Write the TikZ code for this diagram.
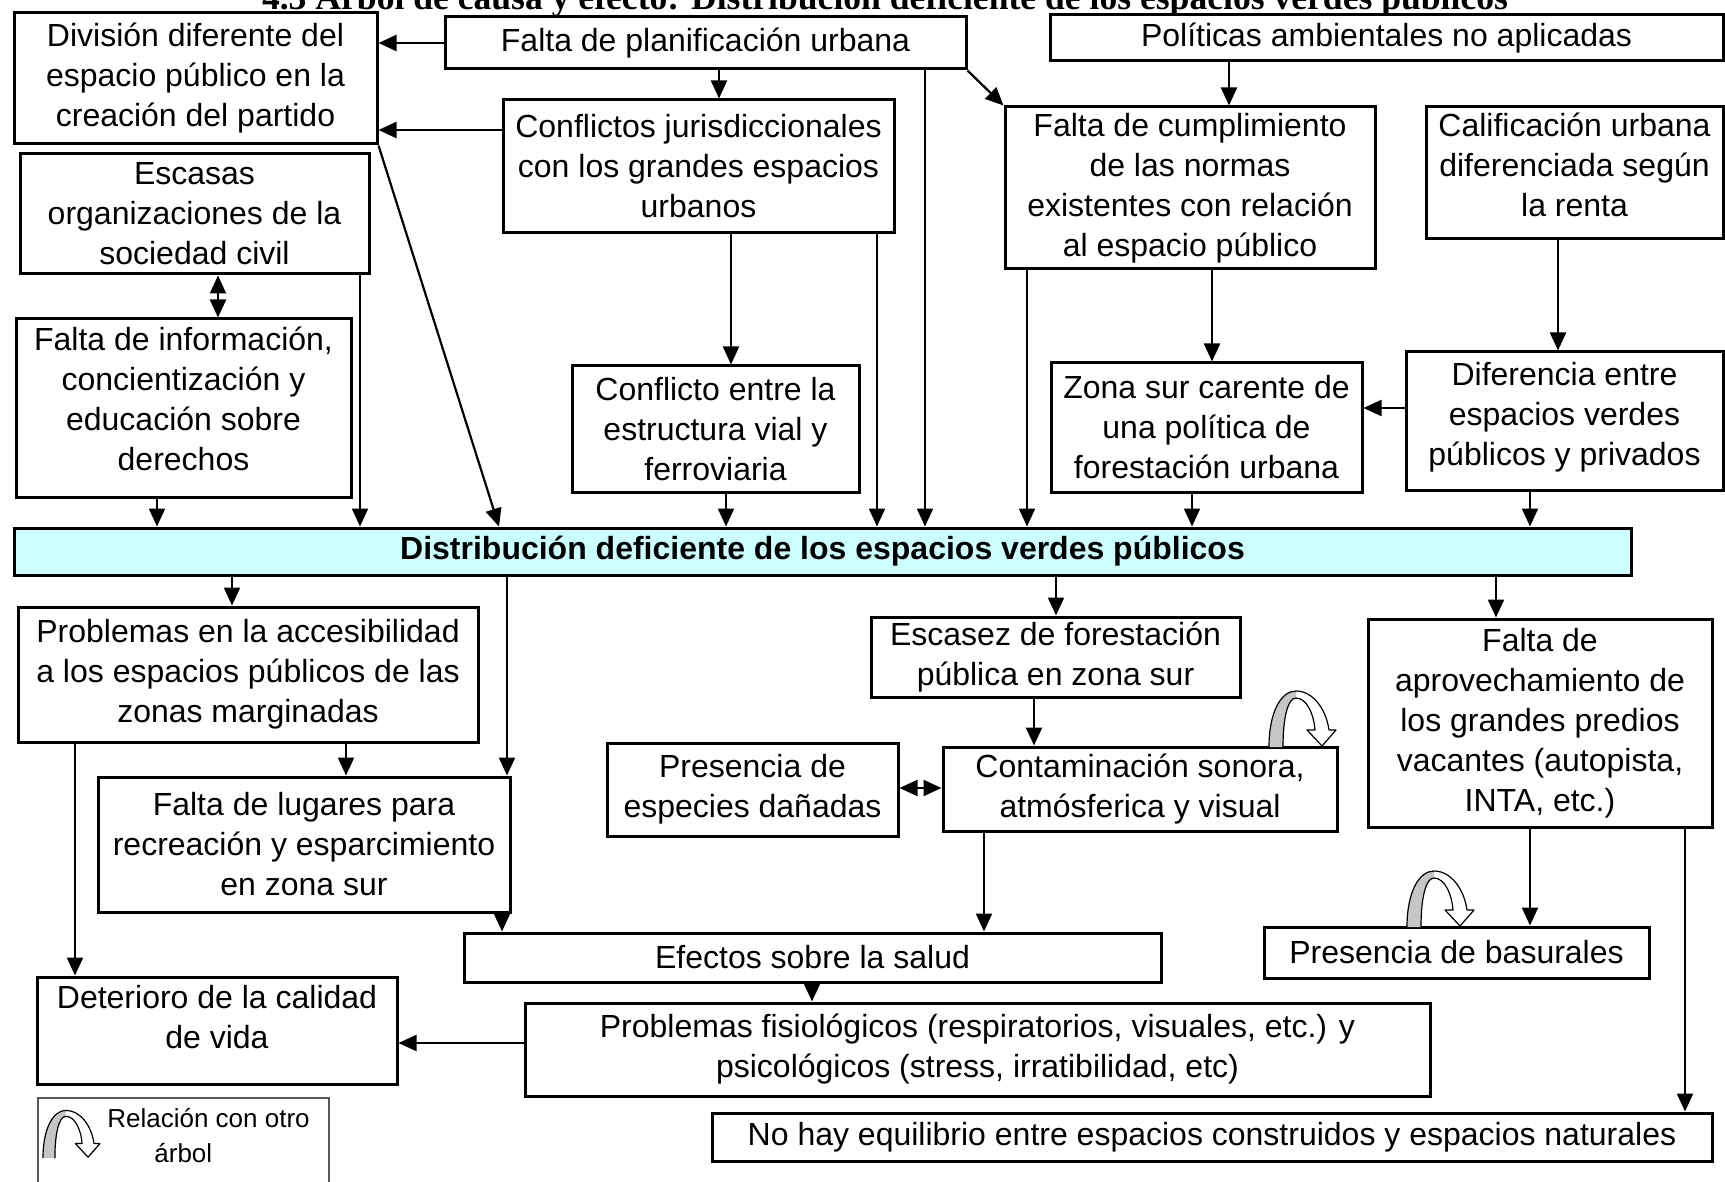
\documentclass[tikz,border=0pt]{standalone}
\usepackage{fontspec}
\setmainfont{Liberation Sans}
\newfontfamily\titleserif{Liberation Serif}
\usetikzlibrary{arrows.meta}
\definecolor{corecyan}{RGB}{204,255,255}

% box from left/top/right/bottom edges (pixel grid, y grows downwards)
\newcommand\boxnode[7][]{%
  \node[box,#1,minimum width={(#5-#3)*0.5pt},minimum height={(#6-#4)*0.5pt}]
    (#2) at ({(#3+#5)/2},{(#4+#6)/2}) {#7};}

\tikzset{
  box/.style={draw=black,line width=1.5pt,fill=white,inner sep=0pt,align=center,
    font=\fontsize{16}{20}\selectfont},
  core/.style={fill=corecyan,font=\bfseries\fontsize{16}{20}\selectfont},
  tip/.tip={Triangle[length=9pt,width=8pt]},
  con/.style={line width=1.1pt,-tip},
  conboth/.style={line width=1.1pt,tip-tip},
  relloop/.pic={
    \fill[gray!45] (0,0) .. controls (0,-35) and (12,-56) .. (27,-56) -- (27,-49)
      .. controls (19,-49) and (14,-30) .. (14,0) -- cycle;
    \draw[line width=0.6pt,line join=round] (0,0) .. controls (0,-35) and (12,-56) .. (27,-56)
      .. controls (44,-56) and (57,-38) .. (60,-17) -- (67,-17) -- (53,-1) -- (38,-17) -- (46,-17)
      .. controls (45,-32) and (38,-49) .. (27,-49)
      .. controls (19,-49) and (14,-30) .. (14,0);
  },
}

\begin{document}
\begin{tikzpicture}[x=0.5pt,y=-0.5pt]
\useasboundingbox (0,0) rectangle (1725,1182);
\clip (0,0) rectangle (1725,1182);
\fill[white] (0,0) rectangle (1725,1182);

% heading
\node[font=\titleserif\bfseries\fontsize{17.8}{20}\selectfont,anchor=base,inner sep=0pt]
  (title) at (885,10) {4.3 Árbol de causa y efecto: Distribución deficiente de los espacios verdes públicos};

% causes
\boxnode{division}{14}{13}{377}{144}{División diferente del\\espacio público en la\\creación del partido}
\boxnode{plan}{445}{17}{966}{69}{Falta de planificación urbana}
\boxnode{politicas}{1050}{15}{1723}{61}{Políticas ambientales no aplicadas}
\boxnode{conflictos}{503}{100}{894}{233}{Conflictos jurisdiccionales\\con los grandes espacios\\urbanos}
\boxnode{cumplimiento}{1005}{107}{1375}{269}{Falta de cumplimiento\\de las normas\\existentes con relación\\al espacio público}
\boxnode{calificacion}{1426}{107}{1723}{239}{Calificación urbana\\diferenciada según\\la renta\\[-12pt]\mbox{}}
\boxnode{escasas}{20}{154}{369}{274}{Escasas\\organizaciones de la\\sociedad civil}
\boxnode{informacion}{16}{319}{351}{497}{Falta de información,\\concientización y\\educación sobre\\derechos\\[-11pt]\mbox{}}
\boxnode{vial}{572}{366}{859}{492}{Conflicto entre la\\estructura vial y\\ferroviaria}
\boxnode{zonasur}{1051}{363}{1362}{492}{Zona sur carente de\\una política de\\forestación urbana}
\boxnode{diferencia}{1406}{352}{1723}{490}{Diferencia entre\\espacios verdes\\públicos y privados\\[-13pt]\mbox{}}

% central problem
\boxnode[core]{distrib}{14}{528}{1631}{575}{Distribución deficiente de los espacios verdes públicos}

% effects
\boxnode{accesib}{18}{607}{478}{742}{Problemas en la accesibilidad\\a los espacios públicos de las\\zonas marginadas}
\boxnode{lugares}{98}{777}{510}{912}{Falta de lugares para\\recreación y esparcimiento\\en zona sur}
\boxnode{escasez}{871}{617}{1240}{697}{Escasez de forestación\\pública en zona sur}
\boxnode{especies}{607}{743}{898}{836}{Presencia de\\especies dañadas}
\boxnode{contam}{943}{747}{1337}{831}{Contaminación sonora,\\atmósferica y visual}
\boxnode{aprov}{1368}{619}{1712}{827}{Falta de\\aprovechamiento de\\los grandes predios\\vacantes (autopista,\\INTA, etc.)}
\boxnode{basurales}{1264}{927}{1649}{978}{Presencia de basurales}
\boxnode{efectos}{464}{933}{1161}{982}{Efectos sobre la salud}
\boxnode{deterioro}{37}{977}{397}{1084}{Deterioro de la calidad\\de vida\\[-6pt]\mbox{}}
\boxnode{fisio}{525}{1003}{1430}{1096}{Problemas fisiológicos (respiratorios, visuales, etc.) y\\psicológicos (stress, irratibilidad, etc)}
\boxnode{nohay}{712}{1113}{1712}{1161}{No hay equilibrio entre espacios construidos y espacios naturales}

% legend
\node[draw=gray!70!black,line width=0.8pt,minimum width={291*0.5pt},minimum height={120*0.5pt},
  inner sep=0pt,anchor=north west] (legend) at (37,1097) {};
\node[font=\fontsize{13}{16}\selectfont,anchor=west,inner sep=0pt] (legtexta) at (107,1118) {Relación con otro};
\node[font=\fontsize{13}{16}\selectfont,anchor=west,inner sep=0pt] (legtextb) at (154,1153) {árbol};

% connector columns and rows
\foreach \cx in {75,157,218,232,346,360,499,502,507,719,726,731,812,877,925,984,1027,1034,1056,1192,1212,1229,1496,1530,1558,1685}
  \coordinate (c\cx) at (\cx,0);
\foreach \ry in {130,408,788,1043}
  \coordinate (r\ry) at (0,\ry);

% upper part
\draw[con] (plan.west) -- (plan.west -| division.east);
\draw[con] (plan.south -| c719) -- (conflictos.north -| c719);
\draw[con] (conflictos.west |- r130) -- (division.east |- r130);
\draw[con] (division.south east) -- (distrib.north -| c499);
\draw[con] (plan.south -| c925) -- (distrib.north -| c925);
\draw[con] (plan.south east) -- (cumplimiento.north west);
\draw[con] (politicas.south -| c1229) -- (cumplimiento.north -| c1229);
\draw[con] (cumplimiento.south -| c1027) -- (distrib.north -| c1027);
\draw[con] (cumplimiento.south -| c1212) -- (zonasur.north -| c1212);
\draw[con] (calificacion.south -| c1558) -- (diferencia.north -| c1558);
\draw[con] (diferencia.west |- r408) -- (zonasur.east |- r408);
\draw[con] (diferencia.south -| c1530) -- (distrib.north -| c1530);
\draw[con] (zonasur.south -| c1192) -- (distrib.north -| c1192);
\draw[con] (conflictos.south -| c731) -- (vial.north -| c731);
\draw[con] (conflictos.south -| c877) -- (distrib.north -| c877);
\draw[con] (vial.south -| c726) -- (distrib.north -| c726);
\draw[con] (escasas.south -| c360) -- (distrib.north -| c360);
\draw[conboth] (escasas.south -| c218) -- (informacion.north -| c218);
\draw[con] (informacion.south -| c157) -- (distrib.north -| c157);

% lower part
\draw[con] (distrib.south -| c232) -- (accesib.north -| c232);
\draw[con] (distrib.south -| c507) -- (lugares.north -| c507);
\draw[con] (accesib.south -| c346) -- (lugares.north -| c346);
\draw[con] (accesib.south -| c75) -- (deterioro.north -| c75);
\draw[con] (lugares.south -| c502) -- (efectos.north -| c502);
\draw[con] (distrib.south -| c1056) -- (escasez.north -| c1056);
\draw[con] (distrib.south -| c1496) -- (aprov.north -| c1496);
\draw[con] (escasez.south -| c1034) -- (contam.north -| c1034);
\draw[conboth] (especies.east |- r788) -- (contam.west |- r788);
\draw[con] (contam.south -| c984) -- (efectos.north -| c984);
\draw[con] (efectos.south -| c812) -- (fisio.north -| c812);
\draw[con] (fisio.west |- r1043) -- (deterioro.east |- r1043);
\draw[con] (aprov.south -| c1530) -- (basurales.north -| c1530);
\draw[con] (aprov.south -| c1685) -- (nohay.north -| c1685);

% links to another tree
\pic at (1269,747) {relloop};
\pic at (1407,927) {relloop};
\pic[scale=0.85] at (43,1158) {relloop};
\end{tikzpicture}
\end{document}
